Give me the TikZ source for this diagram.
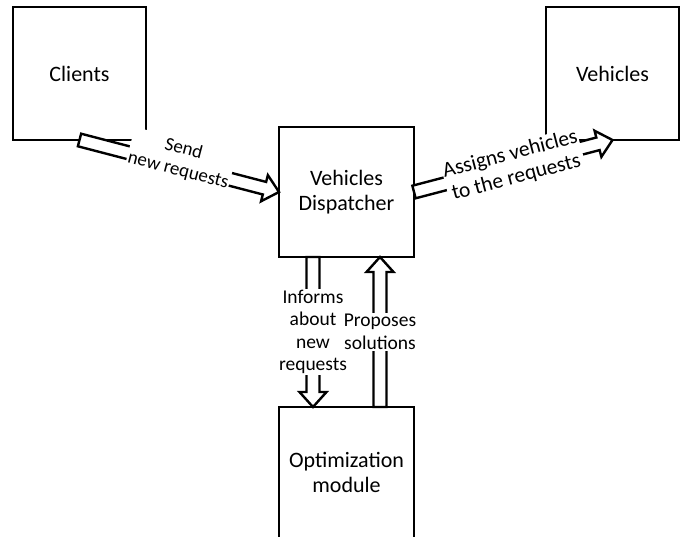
\documentclass[tikz,border=0pt]{standalone}
\usepackage{fontspec}
\setmainfont{Carlito}
\usetikzlibrary{calc}

\begin{document}
\begin{tikzpicture}[x=1pt, y=1pt,
  box/.style={draw, line width=2.6pt, outer sep=0pt, align=center, font=\fontsize{22}{25}\selectfont},
  fat/.style={draw, line width=2.4pt, fill=white, line join=miter},
  lbl/.style={fill=white, inner sep=1pt, align=center, font=\fontsize{19.5}{22.5}\selectfont}]
  \path[use as bounding box] (0,0) rectangle (696,-537);
  \clip (0,0) rectangle (696,-537);
  \node[box, minimum width=133pt, minimum height=133pt] (clients) at (79.5,-73.5) {Clients};
  \node[box, minimum width=133pt, minimum height=133pt] (vehicles) at (612.5,-73.5) {Vehicles};
  \node[box, minimum width=135pt, minimum height=130pt] (disp) at (346.5,-192) {Vehicles\\Dispatcher};
  \node[box, minimum width=135pt, minimum height=131pt] (opt) at (346.5,-472.5) {Optimization\\module};
  \coordinate (inf-a) at ([xshift=-33.5pt]disp.south);
  \coordinate (inf-b) at ([xshift=-33.5pt]opt.north);
  \coordinate (prop-a) at ([xshift=33.5pt]opt.north);
  \coordinate (prop-b) at ([xshift=33.5pt]disp.south);
  \foreach \a/\b in {clients.south/disp.west, disp.east/vehicles.south, inf-a/inf-b, prop-a/prop-b}
    \draw[fat] let \p1=(\a), \p2=(\b), \n1={atan2(\y2-\y1,\x2-\x1)}, \n2={veclen(\x2-\x1,\y2-\y1)} in
      ($(\p1)+({\n1+90}:6.5)$) -- ($(\p1)+(\n1:\n2-15)+({\n1+90}:6.5)$)
      -- ($(\p1)+(\n1:\n2-15)+({\n1+90}:13.5)$) -- (\p2)
      -- ($(\p1)+(\n1:\n2-15)+({\n1-90}:13.5)$) -- ($(\p1)+(\n1:\n2-15)+({\n1-90}:6.5)$)
      -- ($(\p1)+({\n1-90}:6.5)$) -- cycle;
  \path (clients.south) -- node[lbl, sloped, yshift=6.5pt, font=\fontsize{19}{22}\selectfont] {Send\\new requests} (disp.west);
  \path (disp.east) -- node[lbl, sloped, font=\fontsize{21.5}{24}\selectfont] {Assigns vehicles\\to the requests} (vehicles.south);
  \path (inf-a) -- node[lbl] {Informs\\about\\new\\requests} (inf-b);
  \path (prop-a) -- node[lbl] {Proposes\\solutions} (prop-b);
\end{tikzpicture}
\end{document}
